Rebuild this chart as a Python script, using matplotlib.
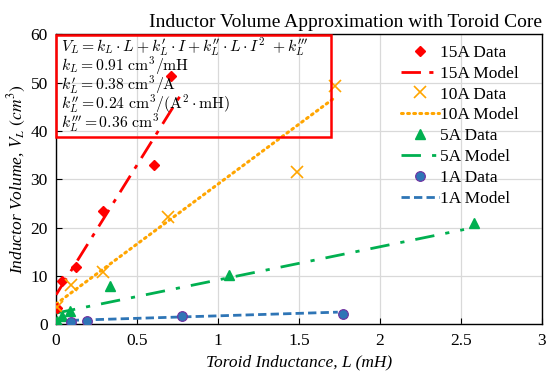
import matplotlib.pyplot as plt
from matplotlib.patches import Rectangle

plt.rcParams['font.family'] = ['Liberation Serif', 'DejaVu Serif']
plt.rcParams['mathtext.fontset'] = 'stix'

# Datos
L15 = [0.005, 0.035, 0.12, 0.29, 0.605, 0.71]
V15 = [3.4, 8.9, 11.8, 23.5, 33.0, 51.3]
L10 = [0.005, 0.095, 0.29, 0.69, 1.49, 1.72]
V10 = [3.6, 8.2, 10.9, 22.2, 31.4, 49.4]
L5 = [0.004, 0.035, 0.086, 0.333, 1.07, 2.58]
V5 = [0.6, 1.7, 2.7, 7.9, 10.2, 21.0]
L1 = [0.09, 0.19, 0.78, 1.77]
V1 = [0.5, 0.6, 1.7, 2.2]

# Modelos (extremos de las rectas)
L15m = [0.0, 0.78]
V15m = [6.1, 48.0]
L10m = [0.0, 1.71]
V10m = [4.2, 46.6]
L5m = [0.0, 2.52]
V5m = [2.3, 19.6]
L1m = [0.09, 1.74]
V1m = [0.8, 2.5]

red = '#FF0000'
orange = '#FFA500'
green = '#00B050'
blue = '#2E75B6'

fig = plt.figure(figsize=(5.5, 3.81), dpi=100)
ax = fig.add_axes([0.102, 0.149, 0.883, 0.761])

ax.plot(L15, V15, 'D', color=red, ms=5, label='15A Data', zorder=4)
ax.plot(L15m, V15m, color=red, lw=2, dashes=(7, 3, 1.5, 3), label='15A Model', zorder=3)
ax.plot(L10, V10, 'x', color=orange, ms=8, mew=1.2, label='10A Data', zorder=4)
ax.plot(L10m, V10m, color=orange, lw=2.2, linestyle=(0, (0.6, 1.4)),
        dash_capstyle='round', label='10A Model', zorder=3)
ax.plot(L5, V5, '^', color=green, ms=7, label='5A Data', zorder=4)
ax.plot(L5m, V5m, color=green, lw=2, dashes=(7, 4, 1.5, 4), label='5A Model', zorder=3)
ax.plot(L1, V1, 'o', color=blue, mec='#7030A0', mew=0.8, ms=7, label='1A Data', zorder=4)
ax.plot(L1m, V1m, color=blue, lw=2, dashes=(3, 1.5), label='1A Model', zorder=3)

ax.set_xlim(0, 3)
ax.set_ylim(0, 60)
ax.set_xticks([0, 0.5, 1, 1.5, 2, 2.5, 3])
ax.set_xticklabels(['0', '0.5', '1', '1.5', '2', '2.5', '3'])
ax.set_yticks(range(0, 61, 10))
ax.tick_params(direction='in', length=4, labelsize=12.5, pad=6)
ax.grid(True, color='#D9D9D9', lw=0.9)
ax.set_axisbelow(True)
for s in ax.spines.values():
    s.set_color('black')
    s.set_linewidth(1)

ax.set_xlabel('Toroid Inductance, L (mH)', fontsize=12.5, style='italic')
ax.set_ylabel(r'Inductor Volume, $V_L$ $(cm^3)$', fontsize=12.5, style='italic', labelpad=2)
ax.set_title('Inductor Volume Approximation with Toroid Core', fontsize=14, loc='right', pad=5)

leg = ax.legend(loc='upper right', bbox_to_anchor=(0.975, 1.0), frameon=False,
                fontsize=12.5, handlelength=2.2, handletextpad=0.1,
                labelspacing=0.27, borderaxespad=0.2)

# Recuadro con la ecuacion
ax.add_patch(Rectangle((0.0, 38.8), 1.70, 21.0, fill=False, edgecolor=red, lw=1.8,
                       clip_on=False, zorder=5))
eq = [r"$V_L=k_L \cdot L+k_L^{\prime} \cdot I+k_L^{\prime\prime} \cdot L \cdot I^2\ +k_L^{\prime\prime\prime}$",
      r"$k_L=0.91\ \mathrm{cm^3/mH}$",
      r"$k_L^{\prime}=0.38\ \mathrm{cm^3/A}$",
      r"$k_L^{\prime\prime}=0.24\ \mathrm{cm^3/(A^2 \cdot mH)}$",
      r"$k_L^{\prime\prime\prime}=0.36\ \mathrm{cm^3}$"]
for i, line in enumerate(eq):
    ax.text(0.03, 56.4 - i * 3.95, line, fontsize=11.3, va='baseline', ha='left',
            math_fontfamily='cm', zorder=6)

fig.savefig('out.png', dpi=100)
